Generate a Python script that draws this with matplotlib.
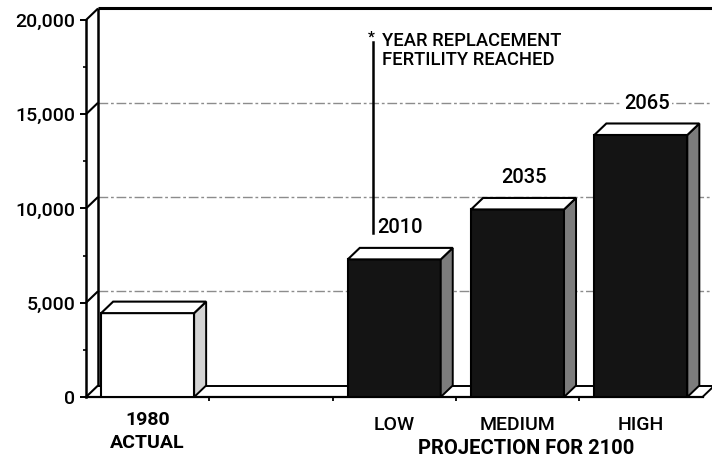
import matplotlib
matplotlib.use('Agg')
import matplotlib.pyplot as plt
from matplotlib.patches import Polygon, Rectangle

plt.rcParams['font.family'] = ['Roboto', 'Liberation Sans', 'DejaVu Sans']

# ---- data ----
bar_names = ['1980\nACTUAL', 'LOW', 'MEDIUM', 'HIGH']
positions = [0, 2, 3, 4]
values = [4450, 7300, 9950, 13900]
bar_labels = ['', '2010', '2035', '2065']
kinds = ['actual', 'proj', 'proj', 'proj']
yticks = [0, 5000, 10000, 15000, 20000]
ytick_labels = ['0', '5,000', '10,000', '15,000', '20,000']
minor_yticks = [2500, 7500, 12500, 17500]
group_label = 'PROJECTION FOR 2100'
note = 'YEAR REPLACEMENT\nFERTILITY REACHED'

# ---- figure ----
W, H = 712, 459
fig = plt.figure(figsize=(W / 100, H / 100), dpi=100)
ax = fig.add_axes([86 / W, 62 / H, 626 / W, 377 / H])
slot_px = 123.3
xmin, xmax = -0.5, 4.5 + 9.5 / slot_px
ax.set_xlim(xmin, xmax)
ax.set_ylim(0, 20000)
px_y = 20000 / 377.0
dx = 12 / slot_px
dy = 11.5 * px_y
bw = 93 / slot_px
MED = 'medium'

for s in ['top', 'right']:
    ax.spines[s].set_visible(False)
ax.spines['left'].set_linewidth(1.8)
ax.spines['bottom'].set_linewidth(1.6)
ax.spines['bottom'].set_bounds(-0.5, 4.5)
ax.spines['left'].set_bounds(0, 20000)

ax.set_yticks(yticks)
ax.set_yticklabels(ytick_labels, fontsize=14, fontweight=MED)
ax.set_yticks(minor_yticks, minor=True)
ax.tick_params(axis='y', which='major', length=4.5, width=1.4, pad=3)
ax.tick_params(axis='y', which='minor', length=2.5, width=1.2)
ax.set_xticks([0.5, 1.5, 2.5, 3.5])
ax.set_xticklabels([])
ax.tick_params(axis='x', which='major', length=3, width=1.3, direction='out')

lk = dict(color='black', clip_on=False, solid_capstyle='butt')
# back wall and top edge
ax.plot([xmin + dx, xmin + dx], [dy, 20000 + dy], lw=1.8, zorder=2, **lk)
ax.plot([xmin + dx, xmax], [20000 + dy, 20000 + dy], lw=2.2, zorder=2, **lk)
# diagonals at major ticks
for v in yticks:
    ax.plot([xmin, xmin + dx], [v, v + dy], lw=1.5, zorder=2, **lk)
# back floor line and right floor edge
ax.plot([xmin + dx, 4.5 + dx], [dy, dy], lw=1.4, zorder=1, **lk)
ax.plot([4.5, 4.5 + dx], [0, dy], lw=1.4, zorder=1, **lk)
# back gridlines
for v in yticks[1:-1]:
    ax.plot([xmin + dx, xmax], [v + dy, v + dy], color='#8c8c8c', lw=1.0,
            ls=(0, (7, 2, 2, 2)), clip_on=False, zorder=1)

# bars
for x, v, kind, lab in zip(positions, values, kinds, bar_labels):
    front_c = 'white' if kind == 'actual' else '#141414'
    side_c = '#d4d4d4' if kind == 'actual' else '#7c7c7c'
    x0, x1 = x - bw / 2, x + bw / 2
    ax.bar(x, v, width=bw, color=front_c, edgecolor='black', linewidth=1.5, zorder=4)
    side = Polygon([(x1, 0), (x1 + dx, dy), (x1 + dx, v + dy), (x1, v)],
                   closed=True, facecolor=side_c, edgecolor='black', lw=1.4, zorder=4)
    top = Polygon([(x0, v), (x0 + dx, v + dy), (x1 + dx, v + dy), (x1, v)],
                  closed=True, facecolor='white', edgecolor='black', lw=1.5, zorder=4)
    ax.add_patch(side)
    ax.add_patch(top)
    if lab:
        ax.text(x + dx / 2, v + dy + 20 * px_y, lab, ha='center', va='center',
                fontsize=14.5, fontweight=MED, zorder=5,
                bbox=dict(facecolor='white', edgecolor='none', pad=2))

# category labels
ax.text(positions[0], -23 * px_y, '1980', ha='center', va='center',
        fontsize=14, fontweight='bold', clip_on=False)
ax.text(positions[0], -46 * px_y, 'ACTUAL', ha='center', va='center',
        fontsize=14, fontweight='bold', clip_on=False)
for x, name in zip(positions[1:], bar_names[1:]):
    ax.text(x, -28 * px_y, name, ha='center', va='center', fontsize=14,
            fontweight=MED, clip_on=False)
ax.text(3.07, -51 * px_y, group_label, ha='center', va='center', fontsize=14.5,
        fontweight='bold', clip_on=False)

# replacement fertility note
lx = -0.5 + (373 - 86) / slot_px
ax.plot([lx, lx], [(397 - 233) * px_y, (397 - 42) * px_y], color='black', lw=1.8,
        clip_on=False, zorder=3)
ax.text(lx - 0.015, (397 - 38) * px_y, '*', ha='center', va='center', fontsize=11,
        fontweight='bold', clip_on=False)
ax.text(-0.5 + (382 - 86) / slot_px, (397 - 32) * px_y, note, ha='left', va='top',
        fontsize=13.2, fontweight=MED, linespacing=1.05, clip_on=False)

fig.savefig('out.png', dpi=100)
